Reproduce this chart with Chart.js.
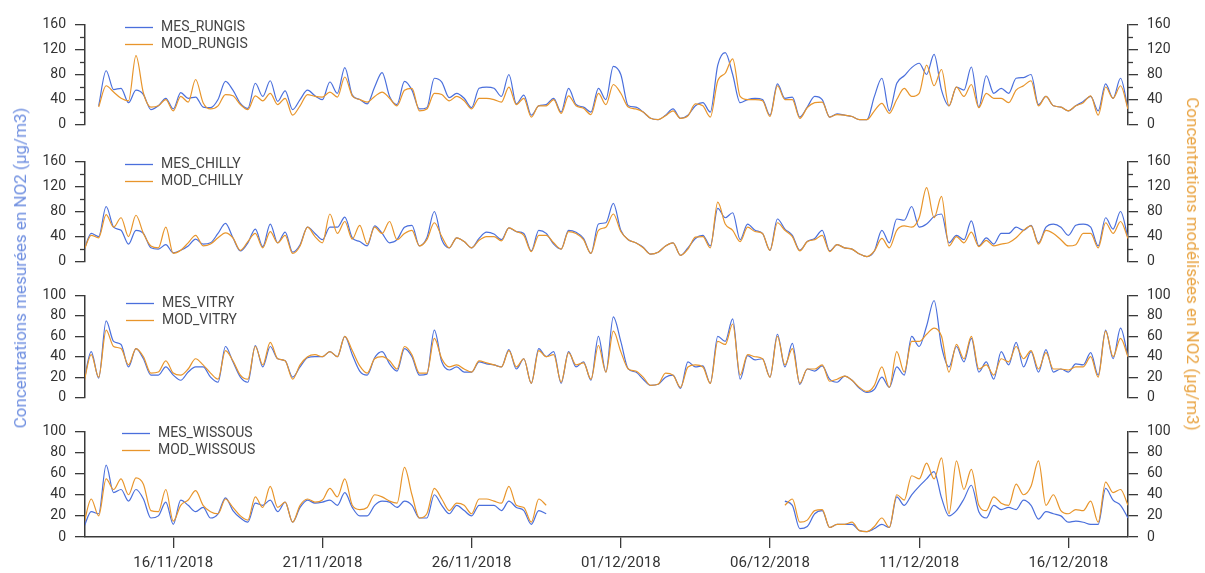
<!DOCTYPE html>
<html>
<head>
<meta charset="utf-8">
<script src="https://cdn.jsdelivr.net/npm/chart.js@4.4.0/dist/chart.umd.min.js"></script>
<style>
  html, body { margin: 0; padding: 0; background: #fff; }
  #wrap { position: relative; width: 1205px; height: 573px; overflow: hidden; font-family: Roboto, sans-serif; }
  #wrap canvas { position: absolute; left: 0; }
  .ytitle { position: absolute; font-size: 17px; white-space: nowrap; transform-origin: center; }
  #tLeft { left: 20px; top: 268px; color: #6f8fe0; transform: translate(-50%, -50%) rotate(-90deg); }
  #tRight { left: 1193px; top: 264px; color: #e9a443; transform: translate(-50%, -50%) rotate(90deg); }
</style>
</head>
<body>
<div id="wrap">
  <canvas id="p0"></canvas>
  <canvas id="p1"></canvas>
  <canvas id="p2"></canvas>
  <canvas id="p3"></canvas>
  <div class="ytitle" id="tLeft">Concentrations mesurées en NO2 (µg/m3)</div>
  <div class="ytitle" id="tRight">Concentrations modélisées en NO2 (µg/m3)</div>
</div>
<script>
// time grid: hours since 13/11/2018 00:00, one value every 6 hours
const startHour = 0
const stepHours = 6
const xMin = 1
const xMax = 840

const tickHours = [72, 192, 312, 432, 552, 672, 792]
const tickLabels = ['16/11/2018', '21/11/2018', '26/11/2018', '01/12/2018', '06/12/2018', '11/12/2018', '16/12/2018']

const yTicks160 = [0, 20, 40, 60, 80, 100, 120, 140, 160]
const yLabels160 = [0, 40, 80, 120, 160]
const yTicks100 = [0, 20, 40, 60, 80, 100]
const yLabels100 = [0, 20, 40, 60, 80, 100]

const mesRungis = [
  null, null, 30, 86,  56, 58, 35, 55,  48, 24, 30, 42,  25, 51, 42, 44,  28, 27, 40, 69,
  55, 34, 26, 66,  45, 70, 37, 54,  24, 40, 55, 46,  40, 68, 50, 91,  47, 40, 33, 60,
  83, 45, 32, 69,  55, 25, 27, 74,  68, 43, 50, 42,  27, 58, 60, 58,  45, 80, 33, 47,
  15, 30, 32, 42,  20, 58, 32, 28,  20, 58, 40, 93,  80, 30, 28, 20,  10, 8, 15, 25,
  10, 15, 30, 35,  20, 95, 115, 80,  35, 40, 42, 40,  15, 65, 42, 44,  12, 28, 45, 40,
  12, 17, 15, 13,  8, 8, 45, 74,  22, 66, 78, 91,  98, 80, 112, 55,  30, 60, 55, 92,
  28, 78, 50, 58,  50, 74, 75, 80,  32, 45, 30, 28,  22, 30, 37, 45,  22, 65, 42, 74,
  25
]
const modRungis = [
  null, null, 28, 62,  52, 42, 38, 110,  50, 28, 30, 40,  22, 45, 36, 72,  35, 25, 30, 48,
  46, 32, 24, 46,  38, 50, 32, 42,  15, 30, 48, 45,  44, 52, 44, 76,  46, 40, 36, 45,
  52, 42, 30, 55,  58, 22, 25, 50,  48, 38, 45, 38,  25, 42, 42, 40,  36, 60, 32, 42,
  12, 30, 30, 40,  18, 46, 30, 26,  16, 50, 32, 64,  50, 28, 25, 20,  10, 8, 14, 22,
  10, 14, 33, 30,  12, 70, 82, 105,  45, 40, 40, 38,  13, 62, 40, 40,  10, 27, 35, 36,
  12, 16, 15, 13,  8, 8, 22, 34,  18, 40, 58, 45,  50, 95, 62, 88,  30, 60, 45, 64,
  27, 50, 42, 42,  35, 55, 62, 70,  30, 45, 30, 28,  22, 30, 35, 46,  15, 60, 42, 62,
  25
]

const mesChilly = [
  17, 45, 40, 88,  55, 50, 28, 50,  45, 22, 20, 27,  14, 18, 25, 36,  28, 30, 45, 61,
  38, 17, 30, 52,  24, 60, 30, 47,  15, 27, 55, 45,  35, 55, 55, 71,  38, 32, 25, 57,
  45, 30, 35, 55,  58, 25, 38, 80,  35, 22, 38, 32,  22, 37, 47, 44,  35, 54, 48, 45,
  17, 50, 45, 28,  20, 50, 47, 37,  13, 60, 62, 93,  50, 35, 30, 23,  12, 15, 25, 30,
  10, 22, 37, 42,  25, 85, 70, 78,  35, 60, 50, 45,  18, 68, 52, 42,  18, 32, 37, 50,
  17, 27, 22, 20,  12, 8, 17, 50,  30, 68, 66, 88,  55, 60, 72, 76,  30, 42, 35, 65,
  25, 38, 28, 45,  45, 55, 50, 58,  30, 55, 60, 55,  42, 58, 60, 55,  25, 70, 52, 80,
  38
]
const modChilly = [
  17, 42, 38, 75,  55, 70, 40, 74,  45, 25, 22, 55,  13, 18, 30, 42,  25, 28, 38, 46,
  38, 18, 32, 45,  22, 48, 30, 42,  13, 25, 55, 40,  30, 76, 45, 64,  36, 58, 28, 55,
  45, 64, 35, 45,  50, 25, 35, 62,  40, 22, 38, 32,  22, 34, 40, 40,  33, 54, 48, 42,
  16, 42, 42, 30,  20, 48, 45, 35,  13, 50, 55, 76,  48, 35, 30, 22,  12, 15, 25, 30,
  10, 20, 39, 40,  22, 95, 60, 50,  32, 55, 48, 45,  18, 62, 50, 40,  17, 32, 35, 42,
  16, 27, 22, 20,  12, 8, 17, 37,  22, 50, 57, 55,  70, 118, 70, 104,  25, 40, 30, 47,
  24, 34, 25, 28,  30, 38, 50, 57,  28, 50, 45, 35,  25, 27, 45, 45,  22, 62, 45, 64,
  37
]

const mesVitry = [
  15, 45, 19, 75,  55, 52, 30, 48,  38, 22, 22, 30,  22, 17, 25, 30,  30, 20, 15, 50,
  35, 20, 15, 51,  30, 50, 38, 36,  20, 30, 39, 40,  40, 45, 40, 60,  42, 26, 22, 39,
  45, 33, 26, 48,  40, 22, 23, 66,  35, 27, 30, 25,  25, 35, 33, 32,  30, 47, 28, 38,
  14, 48, 40, 45,  14, 45, 30, 35,  17, 60, 25, 79,  55, 28, 25, 18,  12, 13, 20, 22,
  9, 35, 30, 31,  14, 60, 55, 77,  18, 41, 37, 38,  20, 62, 30, 53,  13, 28, 26, 31,
  18, 15, 21, 17,  9, 5, 8, 20,  10, 30, 22, 60,  50, 70, 95, 50,  30, 50, 35, 58,
  25, 35, 18, 45,  32, 54, 30, 45,  25, 47, 25, 28,  25, 33, 32, 44,  22, 66, 38, 68,
  40
]
const modVitry = [
  14, 42, 20, 66,  50, 48, 32, 48,  40, 24, 25, 36,  24, 22, 28, 38,  32, 24, 18, 46,
  36, 22, 18, 50,  32, 54, 38, 36,  18, 32, 40, 42,  40, 45, 40, 60,  46, 31, 24, 38,
  40, 36, 28, 50,  42, 24, 24, 58,  38, 30, 32, 28,  25, 36, 34, 32,  30, 46, 30, 38,
  14, 46, 40, 42,  15, 44, 32, 34,  18, 51, 25, 65,  45, 28, 26, 20,  12, 13, 24, 22,
  10, 30, 32, 30,  14, 55, 52, 72,  22, 42, 40, 38,  20, 60, 32, 48,  14, 28, 28, 32,
  16, 18, 21, 17,  10, 6, 12, 30,  10, 45, 25, 55,  55, 62, 68, 60,  25, 52, 38, 60,
  28, 32, 22, 38,  35, 50, 38, 46,  28, 44, 28, 28,  27, 30, 30, 40,  20, 65, 40, 58,
  40
]

const mesWissous = [
  9, 24, 22, 68,  42, 45, 34, 45,  36, 18, 20, 33,  12, 35, 30, 24,  28, 18, 22, 37,
  25, 18, 14, 32,  30, 35, 24, 33,  14, 28, 35, 32,  33, 35, 30, 42,  28, 20, 20, 30,
  34, 33, 28, 34,  30, 18, 18, 40,  30, 22, 30, 25,  20, 30, 30, 30,  25, 34, 28, 25,
  12, 25, 22, null,  null, null, null, null,  null, null, null, null,  null, null, null, null,  null, null, null, null,
  null, null, null, null,  null, null, null, null,  null, null, null, null,  null, null, 34, 30,  8, 10, 22, 25,
  9, 12, 12, 12,  6, 5, 8, 12,  9, 38, 30, 40,  48, 55, 62, 37,  20, 25, 36, 49,
  24, 18, 30, 26,  28, 26, 35, 30,  17, 24, 22, 20,  14, 15, 14, 12,  12, 46, 35, 30,
  18
]
const modWissous = [
  12, 36, 20, 55,  45, 55, 40, 56,  50, 25, 24, 45,  15, 30, 35, 44,  30, 24, 22, 36,
  28, 20, 16, 38,  28, 48, 28, 33,  14, 30, 36, 33,  35, 46, 38, 55,  30, 26, 28, 40,
  38, 34, 32, 66,  40, 18, 22, 46,  36, 25, 32, 30,  22, 36, 36, 34,  32, 48, 30, 28,
  14, 36, 30, null,  null, null, null, null,  null, null, null, null,  null, null, null, null,  null, null, null, null,
  null, null, null, null,  null, null, null, null,  null, null, null, null,  null, null, 30, 36,  14, 16, 25, 26,
  9, 12, 12, 14,  6, 5, 10, 18,  9, 40, 35, 58,  55, 70, 55, 75,  22, 72, 45, 64,
  30, 25, 38, 32,  30, 50, 40, 48,  72, 30, 40, 25,  22, 26, 25, 34,  14, 52, 42, 45,
  30
]

const BLUE = '#4a6fdc'
const ORANGE = '#e8952b'
const AXIS = '#3a3a3a'
const TEXT = '#333333'
const FONT = 'Roboto'

const hours = mesRungis.map((_, i) => startHour + i * stepHours)

// page positions of each panel (chart area top / bottom) and of its legend
const panels = [
  { mes: mesRungis, mod: modRungis, names: ['MES_RUNGIS', 'MOD_RUNGIS'], ticks: yTicks160, labels: yLabels160,
    top: 21, bottom: 128, legendX: 125, legendY: 27 },
  { mes: mesChilly, mod: modChilly, names: ['MES_CHILLY', 'MOD_CHILLY'], ticks: yTicks160, labels: yLabels160,
    top: 158, bottom: 265, legendX: 125, legendY: 164 },
  { mes: mesVitry, mod: modVitry, names: ['MES_VITRY', 'MOD_VITRY'], ticks: yTicks100, labels: yLabels100,
    top: 292, bottom: 401, legendX: 126, legendY: 303 },
  { mes: mesWissous, mod: modWissous, names: ['MES_WISSOUS', 'MOD_WISSOUS'], ticks: yTicks100, labels: yLabels100,
    top: 428, bottom: 537, legendX: 122, legendY: 433 }
]

function yScale(p, side) {
  return {
    position: side,
    min: 0,
    max: p.ticks[p.ticks.length - 1],
    afterBuildTicks: s => { s.ticks = p.ticks.map(v => ({ value: v })) },
    afterFit: s => { s.width = side === 'left' ? 85 : 77 },
    ticks: {
      autoSkip: false,
      padding: 9,
      color: TEXT,
      font: { family: FONT, size: 14 },
      callback: v => p.labels.includes(v) ? String(v) : ''
    },
    grid: {
      drawOnChartArea: false,
      drawTicks: true,
      tickLength: 10,
      lineWidth: 1.3,
      color: ctx => (ctx.tick && p.labels.includes(ctx.tick.value)) ? AXIS : 'rgba(0,0,0,0)'
    },
    border: { display: true, color: AXIS, width: 1.5 }
  }
}

function makePanel(i) {
  const p = panels[i]
  const isLast = i === panels.length - 1
  const pad = 14
  const canvasTop = p.top - pad
  const canvasBottom = isLast ? 573 : p.bottom + pad
  const cv = document.getElementById('p' + i)
  cv.width = 1205
  cv.height = canvasBottom - canvasTop
  cv.style.top = canvasTop + 'px'

  // short unlabeled ticks (20, 60, 100, 140) on both axes
  const minorTicks = {
    id: 'minorTicks',
    afterDraw(chart) {
      const ctx = chart.ctx
      ctx.save()
      ctx.strokeStyle = AXIS
      ctx.lineWidth = 1.3
      ;['y', 'y2'].forEach(id => {
        const s = chart.scales[id]
        const x0 = id === 'y' ? s.right : s.left
        const dir = id === 'y' ? -1 : 1
        p.ticks.filter(v => !p.labels.includes(v)).forEach(v => {
          const y = Math.round(s.getPixelForValue(v)) + 0.5
          ctx.beginPath()
          ctx.moveTo(x0, y)
          ctx.lineTo(x0 + dir * 5, y)
          ctx.stroke()
        })
      })
      ctx.restore()
    }
  }

  const innerLegend = {
    id: 'innerLegend',
    afterDraw(chart) {
      const ctx = chart.ctx
      ctx.save()
      ctx.font = '14px ' + FONT
      ctx.textBaseline = 'middle'
      chart.data.datasets.forEach((ds, k) => {
        const y = Math.round(p.legendY + k * 17 - canvasTop) + 0.5
        ctx.strokeStyle = ds.borderColor
        ctx.lineWidth = 1.3
        ctx.beginPath()
        ctx.moveTo(p.legendX, y)
        ctx.lineTo(p.legendX + 28, y)
        ctx.stroke()
        ctx.fillStyle = '#454545'
        ctx.fillText(ds.label, p.legendX + 36, y)
      })
      ctx.restore()
    }
  }

  new Chart(cv, {
    type: 'line',
    data: {
      labels: hours,
      datasets: [
        { label: p.names[0], data: p.mes, borderColor: BLUE, borderWidth: 1.2, pointRadius: 0,
          cubicInterpolationMode: 'monotone', spanGaps: false, yAxisID: 'y', order: 1 },
        { label: p.names[1], data: p.mod, borderColor: ORANGE, borderWidth: 1.2, pointRadius: 0,
          cubicInterpolationMode: 'monotone', spanGaps: false, yAxisID: 'y2', order: 0 }
      ]
    },
    options: {
      responsive: false,
      animation: false,
      events: [],
      layout: { padding: { top: pad, bottom: isLast ? 0 : pad, left: 0, right: 0 } },
      plugins: { legend: { display: false }, tooltip: { enabled: false } },
      scales: {
        x: {
          type: 'linear',
          display: isLast,
          min: xMin,
          max: xMax,
          afterBuildTicks: s => { s.ticks = tickHours.map(v => ({ value: v })) },
          afterFit: s => { s.height = isLast ? 36 : 0 },
          ticks: {
            autoSkip: false,
            maxRotation: 0,
            padding: 6,
            color: TEXT,
            font: { family: FONT, size: 15 },
            callback: v => tickLabels[tickHours.indexOf(v)]
          },
          grid: { drawOnChartArea: false, drawTicks: true, tickLength: 11, lineWidth: 1.3, color: AXIS },
          border: { display: true, color: AXIS, width: 1.5 }
        },
        y: yScale(p, 'left'),
        y2: yScale(p, 'right')
      }
    },
    plugins: [minorTicks, innerLegend]
  })
}

panels.forEach((_, i) => makePanel(i))
</script>
</body>
</html>
